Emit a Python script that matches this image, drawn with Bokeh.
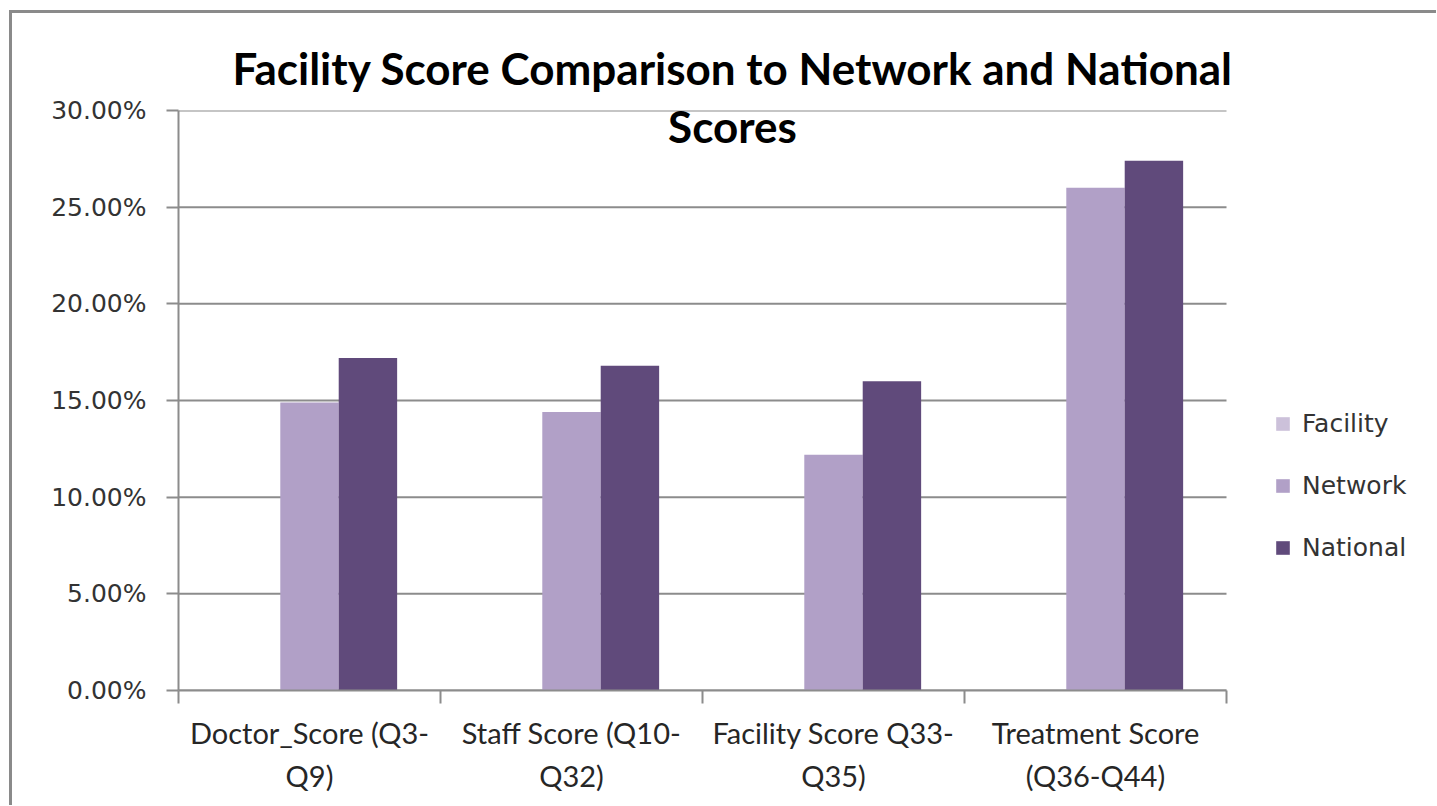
from bokeh.plotting import figure
from bokeh.models import (Range1d, LinearAxis, FixedTicker, NumeralTickFormatter,
                          Legend, LegendItem, Label, ColumnDataSource)
from bokeh.transform import dodge
from bokeh.embed import file_html
from bokeh.resources import INLINE

# ---- data ----
categories = ["Doctor_Score (Q3-Q9)", "Staff Score (Q10-Q32)",
              "Facility Score Q33-Q35)", "Treatment Score (Q36-Q44)"]
category_labels = ["Doctor_Score (Q3-\nQ9)", "Staff Score (Q10-\nQ32)",
                   "Facility Score Q33-\nQ35)", "Treatment Score\n(Q36-Q44)"]
series_names = ["Facility", "Network", "National"]
facility = [0.0, 0.0, 0.0, 0.0]
network = [0.149, 0.144, 0.122, 0.260]
national = [0.172, 0.168, 0.160, 0.274]
y_ticks = [0.0, 0.05, 0.10, 0.15, 0.20, 0.25, 0.30]
title_lines = ["Facility Score Comparison to Network and National", "Scores"]

colors = ["#ccc1da", "#b1a0c7", "#604a7b"]
grid_col = "#8c8c8c"

n = len(categories)
slot = [i + 0.5 for i in range(n)]          # centre of each category slot
src = ColumnDataSource(dict(cat=categories, slot=slot, Facility=facility,
                            Network=network, National=national))

# plot area: category slots take 1048px, the legend sits to their right inside the frame
cat_px, extra_px = 1048, 200
p = figure(frame_width=cat_px + extra_px, frame_height=580,
           x_range=Range1d(0, n * (cat_px + extra_px) / cat_px),
           y_range=Range1d(0, 0.30),
           output_backend="svg", toolbar_location=None,
           x_axis_location=None, y_axis_location=None,
           min_border_left=166, min_border_right=10,
           min_border_top=97, min_border_bottom=115)
p.outline_line_color = None
p.background_fill_color = "white"
p.border_fill_color = "white"
p.styles = {"border-left": "3px solid #8a8a8a", "border-top": "3px solid #8a8a8a",
            "margin-left": "9px", "margin-top": "10px"}
for g in list(p.xgrid) + list(p.ygrid):
    g.visible = False

# title line 1 above the frame, line 2 overlapping the frame as in original
p.title.text = title_lines[0]
p.title.align = "left"
p.title.offset = 54
p.title.standoff = 34
p.title.text_font = "Lato"
p.title.text_font_style = "bold"
p.title.text_font_size = "44px"
p.title.text_color = "#000000"

# horizontal gridlines only across the category slots
p.segment(x0=[0] * len(y_ticks), x1=[n] * len(y_ticks), y0=y_ticks, y1=y_ticks,
          line_color=grid_col, line_width=2)

# y axis
yaxis = LinearAxis(ticker=FixedTicker(ticks=y_ticks),
                   formatter=NumeralTickFormatter(format="0.00%"))
yaxis.axis_line_color = grid_col
yaxis.axis_line_width = 2
yaxis.major_tick_line_color = grid_col
yaxis.major_tick_line_width = 2
yaxis.major_tick_out = 12
yaxis.major_tick_in = 0
yaxis.minor_tick_line_color = None
yaxis.major_label_standoff = 20
yaxis.major_label_text_font = "DejaVu Sans"
yaxis.major_label_text_font_size = "25px"
yaxis.major_label_text_color = "#333333"
p.add_layout(yaxis, "left")

# x axis: category boundaries as minor ticks, labels centred in each slot
xaxis = LinearAxis(ticker=FixedTicker(ticks=slot, minor_ticks=list(range(n + 1))),
                   bounds=(0, n))
xaxis.major_label_overrides = {s: lab for s, lab in zip(slot, category_labels)}
xaxis.axis_line_color = grid_col
xaxis.axis_line_width = 2
xaxis.major_tick_line_color = None
xaxis.major_tick_out = 0
xaxis.major_tick_in = 0
xaxis.minor_tick_line_color = grid_col
xaxis.minor_tick_line_width = 2
xaxis.minor_tick_out = 13
xaxis.minor_tick_in = 0
xaxis.major_label_standoff = 11
xaxis.major_label_text_font = "Lato"
xaxis.major_label_text_font_size = "29px"
xaxis.major_label_text_line_height = 1.24
xaxis.major_label_text_color = "#262626"
p.add_layout(xaxis, "below")

# bars
bw = 0.223
offsets = [-bw, 0.0, bw]
renderers = []
for name, col, off in zip(series_names, colors, offsets):
    r = p.vbar(x=dodge("slot", off), top=name, width=bw,
               source=src, fill_color=col, line_color=None)
    renderers.append(r)

legend = Legend(items=[LegendItem(label=nm, renderers=[r]) for nm, r in zip(series_names, renderers)],
                location=(1096, 128), padding=0, margin=0, spacing=33,
                glyph_width=17, glyph_height=17, label_height=20, label_standoff=11,
                border_line_color=None, background_fill_alpha=0,
                label_text_font="DejaVu Sans", label_text_font_size="25px",
                label_text_color="#333333")
p.add_layout(legend)

p.add_layout(Label(x=554, y=565, x_units="screen", y_units="screen", text=title_lines[1],
                   text_align="center", text_baseline="alphabetic",
                   text_font="Lato", text_font_style="bold",
                   text_font_size="44px", text_color="#000000"))

open("out.html", "w").write(file_html(p, INLINE))
